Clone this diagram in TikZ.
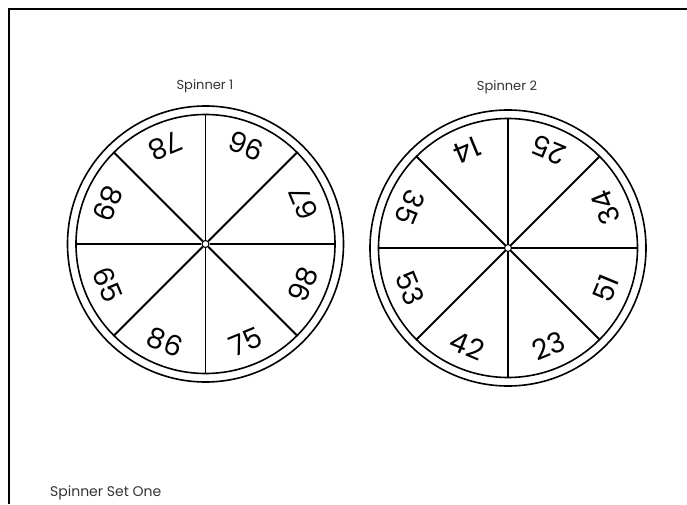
\documentclass[tikz,border=0pt]{standalone}
\usepackage{fontspec}
\setmainfont{Poppins}
\begin{document}
\begin{tikzpicture}[x=1pt,y=1pt,
  rim/.style={line width=1.6pt},
  spoke/.style={line width=1.8pt},
  hub/.style={circle,draw,line width=1.1pt,minimum size=7pt,inner sep=0pt},
  num/.style={font=\fontsize{28}{28}\selectfont,inner sep=0pt},
  title/.style={font=\fontsize{13}{15}\selectfont,text=black!80,inner sep=0pt},
  frameline/.style={line width=1.8pt}]
\useasboundingbox (0,0) rectangle (687,504);
\coordinate (fb) at (9,0);
\coordinate (ftl) at (9,495);
\coordinate (fr) at (687,495);
\draw[frameline] (fb) -- (ftl) -- (fr);

% Spinner 1
\coordinate (c1) at (205.5,260);
\node[title] (t1) at (205,418) {Spinner 1};
\draw[rim] (c1) circle (138);
\draw[rim] (c1) circle (129.5);
\node[hub] (h1) at (c1) {};
\foreach \a in {0,45,...,315}
  \draw[spoke] (h1.\a) -- ([shift={(\a:129.5)}]c1);
\foreach \t [count=\i, evaluate=\i as \ang using 67.5-45*(\i-1)] in {96,67,98,75,86,65,89,78}
  \node[num,rotate=\ang+90] (s1n\i) at ([shift={(\ang:106)}]c1) {\t};

% Spinner 2
\coordinate (c2) at (508,256);
\node[title] (t2) at (507,417) {Spinner 2};
\draw[rim] (c2) circle (138);
\draw[rim] (c2) circle (129.5);
\node[hub] (h2) at (c2) {};
\foreach \a in {0,45,...,315}
  \draw[spoke] (h2.\a) -- ([shift={(\a:129.5)}]c2);
\foreach \t [count=\i, evaluate=\i as \ang using 67.5-45*(\i-1)] in {25,34,51,23,42,53,35,14}
  \node[num,rotate=\ang+90] (s2n\i) at ([shift={(\ang:106)}]c2) {\t};

\node[title,anchor=west,font=\fontsize{14}{16}\selectfont] (set) at (50,11) {Spinner Set One};
\end{tikzpicture}
\end{document}
